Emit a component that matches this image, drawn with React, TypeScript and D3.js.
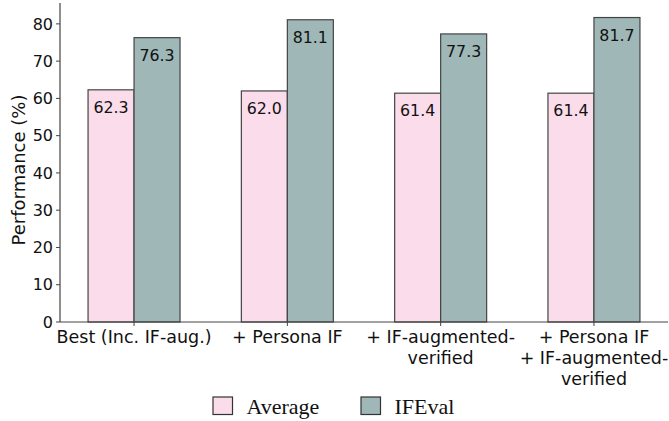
import React from "react";
import * as d3 from "d3";

const categories = [
  ["Best (Inc. IF-aug.)"],
  ["+ Persona IF"],
  ["+ IF-augmented-", "verified"],
  ["+ Persona IF", "+ IF-augmented-", "verified"],
];
const averageValues = [62.3, 62.0, 61.4, 61.4];
const ifevalValues = [76.3, 81.1, 77.3, 81.7];
const yTicks = [0, 10, 20, 30, 40, 50, 60, 70, 80];
const seriesNames = ["Average", "IFEval"];
const seriesColors = ["#fadcea", "#9fb7b7"];

export default function App() {
  const W = 669, H = 421;
  const left = 60, right = 668, top = 3, bottom = 322;
  const x = d3.scaleLinear().domain([-0.483, 3.483]).range([left, right]);
  const y = d3.scaleLinear().domain([0, 85.6]).range([bottom, top]);
  const bw = 0.3;
  const font = "'DejaVu Sans', sans-serif";
  const series = [averageValues, ifevalValues];
  return (
    <svg width={W} height={H} style={{ position: "absolute", left: 0, top: 0 }}>
      <rect width={W} height={H} fill="#fff" />
      {series.map((vals, si) =>
        vals.map((v, i) => {
          const x0 = x(i + (si === 0 ? -bw : 0));
          const x1 = x(i + (si === 0 ? 0 : bw));
          return (
            <g key={`${si}-${i}`}>
              <rect x={x0} y={y(v)} width={x1 - x0} height={bottom - y(v)} fill={seriesColors[si]} stroke="#444" strokeWidth={1.2} />
              <text x={(x0 + x1) / 2} y={y(v) + 23.3} textAnchor="middle" fontFamily={font} fontSize={15.8} fill="#111">
                {v.toFixed(1)}
              </text>
            </g>
          );
        })
      )}
      <line x1={left} x2={left} y1={top} y2={bottom} stroke="#444" strokeWidth={1.2} />
      <line x1={left} x2={right} y1={bottom} y2={bottom} stroke="#444" strokeWidth={1.2} />
      {yTicks.map((t) => (
        <g key={t}>
          <line x1={left - 4} x2={left} y1={y(t)} y2={y(t)} stroke="#444" />
          <text x={left - 7} y={y(t)} dy="0.36em" textAnchor="end" fontFamily={font} fontSize={16} fill="#111">
            {t}
          </text>
        </g>
      ))}
      {categories.map((lines, i) => (
        <g key={i}>
          <line x1={x(i)} x2={x(i)} y1={bottom} y2={bottom + 4} stroke="#444" />
          {lines.map((l, j) => (
            <text key={j} x={x(i)} y={bottom + 21 + j * 21} textAnchor="middle" fontFamily={font} fontSize={17.5} fill="#111">
              {l}
            </text>
          ))}
        </g>
      ))}
      <text transform={`translate(25,170) rotate(-90)`} textAnchor="middle" fontFamily={font} fontSize={18} fill="#111">
        Performance (%)
      </text>
      {seriesNames.map((n, i) => {
        const lx = 213 + i * 148;
        return (
          <g key={n}>
            <rect x={lx} y={397} width={19.5} height={17.5} fill={seriesColors[i]} stroke="#333" strokeWidth={1.2} />
            <text x={lx + 33.5} y={414} fontFamily="'Liberation Serif', serif" fontSize={22} fill="#111">
              {n}
            </text>
          </g>
        );
      })}
    </svg>
  );
}
